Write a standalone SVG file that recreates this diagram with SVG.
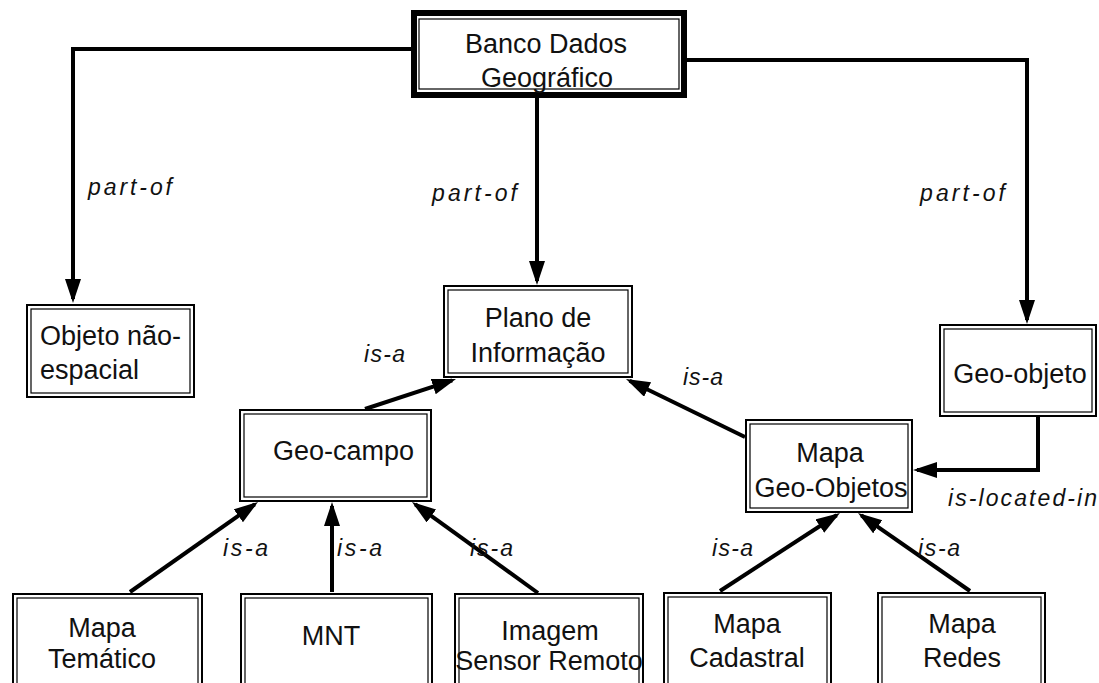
<svg xmlns="http://www.w3.org/2000/svg" width="1099" height="683" viewBox="0 0 1099 683">
<style>
.o{fill:#fff;stroke:#000;stroke-width:2}
.i{fill:none;stroke:#000;stroke-width:1.2}
.t{font-family:"Liberation Sans",Arial,sans-serif;font-size:27px;fill:#111}
.c{text-anchor:middle}
.l{font-family:"Liberation Sans",Arial,sans-serif;font-size:23px;font-style:italic;fill:#111}
.e{fill:none;stroke:#000;stroke-width:4;marker-end:url(#ah)}
</style>
<defs>
<marker id="ah" markerUnits="userSpaceOnUse" markerWidth="26" markerHeight="18" refX="20" refY="8" orient="auto">
<path d="M0,0 L24,8 L0,16 Z" fill="#000"/>
</marker>
</defs>
<rect width="1099" height="683" fill="#fff"/>
<g id="connectors">
<path class="e" d="M411,49 H73 V299"/>
<path class="e" d="M537,98 V281"/>
<path class="e" d="M687,60 H1027 V320"/>
<path class="e" d="M1038,417 V470 H917"/>
<path class="e" d="M365,409 L452.2,380.3"/>
<path class="e" d="M745,437 L629.6,380.8"/>
<path class="e" d="M130,592 L254.7,504.3"/>
<path class="e" d="M332,592 V506"/>
<path class="e" d="M538,593 L415.2,504.3"/>
<path class="e" d="M720,591 L836.6,515.2"/>
<path class="e" d="M970,591 L861.3,515.3"/>
</g>
<g id="labels">
<text class="l" x="88" y="195" textLength="84" lengthAdjust="spacing">part-of</text>
<text class="l" x="432" y="201" textLength="85" lengthAdjust="spacing">part-of</text>
<text class="l" x="920" y="201" textLength="85" lengthAdjust="spacing">part-of</text>
<text class="l" x="364" y="362" textLength="41" lengthAdjust="spacing">is-a</text>
<text class="l" x="683" y="385" textLength="40" lengthAdjust="spacing">is-a</text>
<text class="l" x="223" y="556" textLength="45" lengthAdjust="spacing">is-a</text>
<text class="l" x="337" y="556" textLength="45" lengthAdjust="spacing">is-a</text>
<text class="l" x="470" y="556" textLength="43" lengthAdjust="spacing">is-a</text>
<text class="l" x="712" y="556" textLength="41" lengthAdjust="spacing">is-a</text>
<text class="l" x="918" y="556" textLength="42" lengthAdjust="spacing">is-a</text>
<text class="l" x="948" y="506" textLength="149" lengthAdjust="spacing">is-located-in</text>
</g>
<g id="banco">
<rect x="414" y="13" width="270" height="82" fill="#fff" stroke="#000" stroke-width="6"/>
<rect x="419" y="19" width="260" height="70" class="i"/>
<text class="t c" x="546" y="53">Banco Dados</text>
<text class="t c" x="547" y="87">Geográfico</text>
</g>
<g id="objeto">
<rect class="o" x="27" y="305" width="167" height="92"/>
<rect class="i" x="31" y="309" width="159" height="84"/>
<text class="t" x="40" y="345">Objeto não-</text>
<text class="t" x="40" y="379">espacial</text>
</g>
<g id="plano">
<rect class="o" x="444" y="286" width="188" height="91"/>
<rect class="i" x="448" y="290" width="180" height="83"/>
<text class="t c" x="538" y="327">Plano de</text>
<text class="t c" x="538" y="362">Informação</text>
</g>
<g id="geoobjeto">
<rect class="o" x="940" y="325" width="156" height="91"/>
<rect class="i" x="944" y="329" width="148" height="83"/>
<text class="t c" x="1020" y="383">Geo-objeto</text>
</g>
<g id="geocampo">
<rect class="o" x="240" y="410" width="191" height="91"/>
<rect class="i" x="244" y="414" width="183" height="83"/>
<text class="t" x="273" y="460">Geo-campo</text>
</g>
<g id="mapageo">
<rect class="o" x="746" y="420" width="166" height="92"/>
<rect class="i" x="750" y="424" width="158" height="84"/>
<text class="t c" x="830" y="462">Mapa</text>
<text class="t c" x="831" y="497">Geo-Objetos</text>
</g>
<g id="tematico">
<rect class="o" x="13" y="594" width="189" height="100"/>
<rect class="i" x="17" y="598" width="181" height="92"/>
<text class="t c" x="102" y="637">Mapa</text>
<text class="t c" x="102" y="668">Temático</text>
</g>
<g id="mnt">
<rect class="o" x="241" y="594" width="191" height="100"/>
<rect class="i" x="245" y="598" width="183" height="92"/>
<text class="t c" x="331" y="645">MNT</text>
</g>
<g id="imagem">
<rect class="o" x="455" y="594" width="188" height="100"/>
<rect class="i" x="459" y="598" width="180" height="92"/>
<text class="t c" x="550" y="640">Imagem</text>
<text class="t c" x="549" y="670">Sensor Remoto</text>
</g>
<g id="cadastral">
<rect class="o" x="664" y="593" width="167" height="100"/>
<rect class="i" x="668" y="597" width="159" height="92"/>
<text class="t c" x="747" y="633">Mapa</text>
<text class="t c" x="747" y="667">Cadastral</text>
</g>
<g id="redes">
<rect class="o" x="878" y="593" width="167" height="100"/>
<rect class="i" x="882" y="597" width="159" height="92"/>
<text class="t c" x="962" y="633">Mapa</text>
<text class="t c" x="962" y="667">Redes</text>
</g>
</svg>
